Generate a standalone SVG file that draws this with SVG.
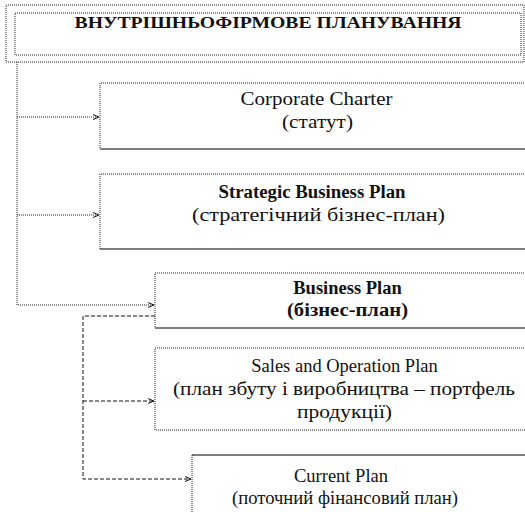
<svg xmlns="http://www.w3.org/2000/svg" width="525" height="512" viewBox="0 0 525 512">
<style>
.dot{fill:none;stroke:#222;stroke-width:1;stroke-dasharray:1 1}
.solid{fill:none;stroke:#555;stroke-width:1.5}
.dash{fill:none;stroke:#111;stroke-width:1;stroke-dasharray:4 2}
.con{fill:none;stroke:#222;stroke-width:1;stroke-dasharray:1 1}
.t{font-family:'Liberation Serif','Times New Roman','DejaVu Serif',serif;font-size:18.5px;fill:#111;text-anchor:middle}
.b{font-weight:bold}
</style>
<defs>
<marker id="arr" viewBox="0 0 6 6" refX="6" refY="3" markerWidth="6" markerHeight="6" markerUnits="userSpaceOnUse" orient="auto">
<path d="M0,0.5 L6,3 L0,5.5" fill="none" stroke="#111" stroke-width="1"/>
</marker>
</defs>
<rect width="525" height="512" fill="#fff"/>
<g id="title">
<rect class="dot" x="6" y="5" width="518" height="57"/>
<rect class="dot" x="15" y="13" width="506" height="42"/>
<text class="t b" x="268" y="28" style="font-size:17px" textLength="387" lengthAdjust="spacingAndGlyphs">ВНУТРІШНЬОФІРМОВЕ ПЛАНУВАННЯ</text>
</g>
<g id="connectors">
<path class="con" d="M17,62 V305 H154" marker-end="url(#arr)"/>
<path class="con" d="M17,117 H99" marker-end="url(#arr)"/>
<path class="con" d="M17,215 H99" marker-end="url(#arr)"/>
<path class="dash" d="M155,316 H83 V479 H191" marker-end="url(#arr)"/>
<path class="dash" d="M83,401 H154" marker-end="url(#arr)"/>
</g>
<g id="corporate">
<path class="dot" d="M530,83 H100 V149"/>
<path class="solid" d="M100,149 H530"/>
<text class="t" x="316.5" y="105" textLength="152" lengthAdjust="spacingAndGlyphs">Corporate Charter</text>
<text class="t" x="317.5" y="128" textLength="71" lengthAdjust="spacingAndGlyphs">(статут)</text>
</g>
<g id="strategic">
<path class="dot" d="M530,174 H100 V249"/>
<path class="solid" d="M100,249 H530"/>
<text class="t b" x="312" y="198" textLength="187" lengthAdjust="spacingAndGlyphs">Strategic Business Plan</text>
<text class="t" x="318.5" y="221" textLength="253" lengthAdjust="spacingAndGlyphs">(стратегічний бізнес-план)</text>
</g>
<g id="business">
<path class="dot" d="M530,273 H155 V328"/>
<path class="solid" d="M155,328 H530"/>
<text class="t b" x="347.5" y="294">Business Plan</text>
<text class="t b" x="347.5" y="316" textLength="121" lengthAdjust="spacingAndGlyphs">(бізнес-план)</text>
</g>
<g id="sales">
<path class="dot" d="M530,348 H155 V430 H530"/>
<text class="t" x="344.5" y="372">Sales and Operation Plan</text>
<text class="t" x="344" y="395" textLength="342" lengthAdjust="spacingAndGlyphs">(план збуту і виробництва – портфель</text>
<text class="t" x="344.5" y="418" textLength="95" lengthAdjust="spacingAndGlyphs">продукції)</text>
</g>
<g id="current">
<path class="solid" d="M192,455 H530"/>
<path class="dot" d="M192,455 V512"/>
<text class="t" x="341" y="482">Current Plan</text>
<text class="t" x="345" y="504" textLength="226" lengthAdjust="spacingAndGlyphs">(поточний фінансовий план)</text>
</g>
</svg>
